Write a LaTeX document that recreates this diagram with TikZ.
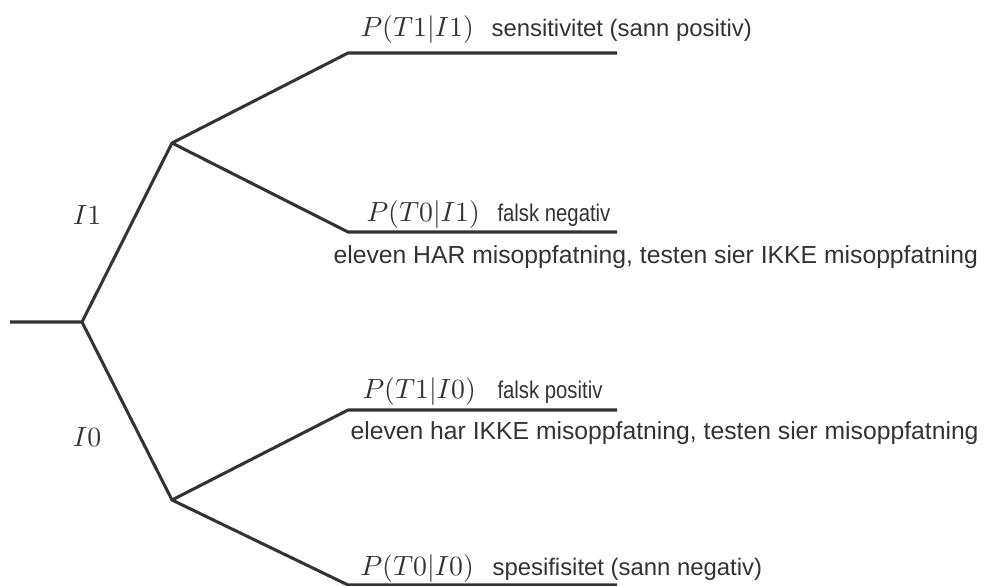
\documentclass[tikz,border=0pt]{standalone}
\usepackage{fontspec}
\setsansfont{Liberation Sans}
\begin{document}
\begin{tikzpicture}[x=0.36pt,y=-0.36pt,
  branch/.style={draw=black!80, line width=1.1pt, line join=round},
  mathlbl/.style={anchor=base west, inner sep=0pt, text=black!80, font=\fontsize{10.3}{12}\selectfont},
  desc/.style={anchor=base west, inner sep=0pt, text=black!80, font=\sffamily\fontsize{8.6}{10}\selectfont},
  small/.style={anchor=base west, inner sep=0pt, text=black!80, font=\sffamily\fontsize{8.7}{10}\selectfont},
  sub/.style={anchor=base west, inner sep=0pt, text=black!80, font=\sffamily\fontsize{8.9}{10}\selectfont},
  ilbl/.style={inner sep=0pt, text=black!80, font=\fontsize{10.3}{12}\selectfont}]
\useasboundingbox (0,0) rectangle (984,586);
% coordinates
\coordinate (r) at (10,322);
\coordinate (n0) at (82,322);
\coordinate (a) at (172,143);
\coordinate (b) at (172,500);
\coordinate (s1) at (348,53);  \coordinate (e1) at (617,53);
\coordinate (s2) at (348,232); \coordinate (e2) at (617,232);
\coordinate (s3) at (348,410); \coordinate (e3) at (617,410);
\coordinate (s4) at (348,585); \coordinate (e4) at (617,585);
% tree
\draw[branch] (r) -- (n0) -- (a) -- (s1) -- (e1);
\draw[branch] (a) -- (s2) -- (e2);
\draw[branch] (n0) -- (b) -- (s3) -- (e3);
\draw[branch] (b) -- (s4) -- (e4);
% branch labels
\node[ilbl] (li1) at (87,215) {$I1$};
\node[ilbl] (li0) at (87,437) {$I0$};
% leaf 1
\node[mathlbl] (m1) at (360,37) {$P(T1|I1)$};
\node[desc] (d1) at (491,37) {sensitivitet (sann positiv)};
% leaf 2
\node[mathlbl] (m2) at (366,222) {$P(T0|I1)$};
\node[small] (d2) at (497,222) {\scalebox{0.84}[1]{falsk negativ}};
\node[sub] (t2) at (333,264) {eleven HAR misoppfatning, testen sier IKKE misoppfatning};
% leaf 3
\node[mathlbl] (m3) at (362,399) {$P(T1|I0)$};
\node[small] (d3) at (497,399) {\scalebox{0.84}[1]{falsk positiv}};
\node[sub] (t3) at (350,440) {eleven har IKKE misoppfatning, testen sier misoppfatning};
% leaf 4
\node[mathlbl] (m4) at (360,576) {$P(T0|I0)$};
\node[desc] (d4) at (492,576) {spesifisitet (sann negativ)};
\end{tikzpicture}
\end{document}
